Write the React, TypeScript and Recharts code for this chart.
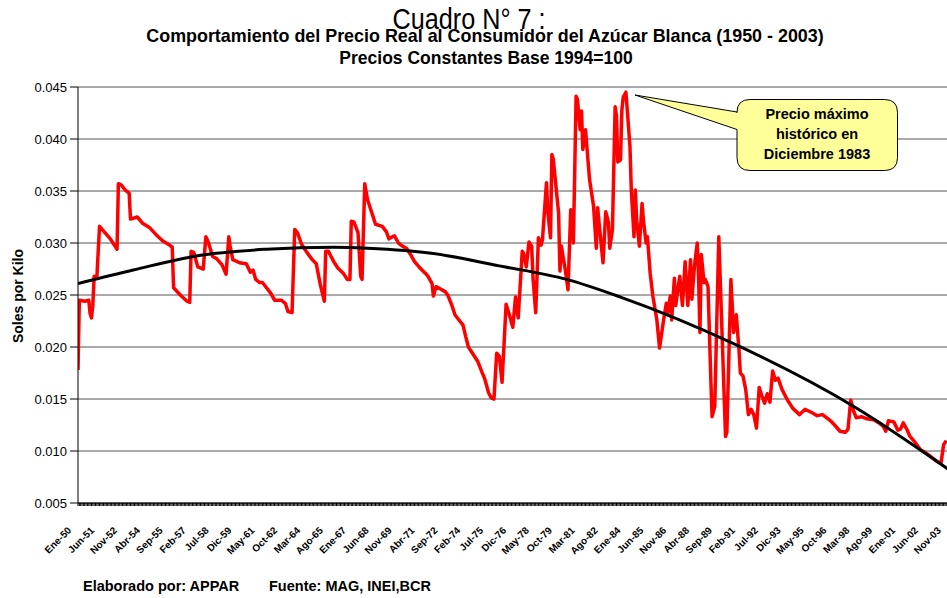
import React from 'react';
import { LineChart, Line, XAxis, YAxis, CartesianGrid } from 'recharts';

const mesIdx = [
  0, 1, 5, 8, 9, 10, 11, 12, 14, 16, 20, 24, 29, 30, 32, 35, 38, 39, 44, 48, 53, 58, 63, 68, 70, 71, 76, 81, 83, 84,
  86, 89, 93, 95, 97, 100, 103, 107, 110, 112, 113, 115, 120, 125, 128, 130, 132, 135, 137, 140, 143, 146, 151, 154,
  156, 159, 161, 163, 166, 170, 174, 177, 180, 183, 184, 186, 190, 193, 197, 200, 202, 203, 205, 208, 210, 211, 213,
  215, 218, 221, 226, 229, 231, 235, 238, 241, 244, 247, 250, 254, 258, 260, 263, 264, 266, 269, 273, 275, 278, 280,
  283, 286, 288, 290, 293, 297, 300, 302, 305, 307, 309, 311, 313, 315, 318, 320, 323, 325, 327, 330, 331, 333, 335,
  337, 338, 340, 342, 344, 345, 348, 349, 351, 352, 353, 357, 358, 359, 362, 364, 366, 367, 368, 370, 371, 373, 374,
  375, 377, 380, 383, 385, 386, 387, 390, 392, 394, 395, 397, 399, 400, 401, 403, 404, 405, 407, 408, 410, 411, 413,
  414, 415, 417, 419, 420, 422, 423, 425, 427, 430, 432, 434, 435, 437, 438, 440, 441, 443, 444, 447, 449, 451, 453,
  455, 456, 458, 460, 461, 462, 463, 465, 466, 468, 470, 471, 473, 476, 481, 482, 485, 487, 489, 491, 492, 494, 496,
  498, 500, 502, 504, 506, 508, 510, 512, 514, 516, 518, 520, 523, 527, 531, 536, 540, 545, 549, 553, 556, 559, 562,
  566, 570, 572, 574, 576, 578, 582, 586, 591, 595, 598, 600, 602, 606, 609, 611, 613, 616, 618, 622, 626, 629, 633,
  638, 641, 643, 645,
];

const precio = [
  0.0178, 0.0245, 0.0244, 0.0245, 0.0232, 0.0228, 0.024, 0.0268, 0.0267, 0.0316, 0.031, 0.0304, 0.0294, 0.0357, 0.0356,
  0.0351, 0.0348, 0.0323, 0.0325, 0.0319, 0.0315, 0.0308, 0.0302, 0.0298, 0.0296, 0.0257, 0.025, 0.0244, 0.0243, 0.0292,
  0.0291, 0.0277, 0.0275, 0.0306, 0.03, 0.0287, 0.0285, 0.0279, 0.027, 0.0306, 0.0297, 0.0284, 0.0281, 0.028, 0.0272,
  0.0274, 0.0265, 0.0262, 0.0262, 0.0257, 0.0252, 0.0245, 0.0245, 0.0242, 0.0234, 0.0233, 0.0313, 0.031, 0.0299, 0.0291,
  0.0284, 0.028, 0.026, 0.0244, 0.0292, 0.0292, 0.0282, 0.0276, 0.0271, 0.0265, 0.0265, 0.0321, 0.032, 0.031, 0.0268,
  0.0265, 0.0357, 0.0342, 0.033, 0.0318, 0.0316, 0.0311, 0.0304, 0.0307, 0.03, 0.0297, 0.0295, 0.0289, 0.0282, 0.0276,
  0.0271, 0.0268, 0.0261, 0.0249, 0.0258, 0.0256, 0.0253, 0.0249, 0.0239, 0.0231, 0.0226, 0.0221, 0.021, 0.02, 0.0194,
  0.0186, 0.0176, 0.017, 0.0156, 0.0151, 0.015, 0.0194, 0.0191, 0.0166, 0.0241, 0.0233, 0.0219, 0.0248, 0.0228, 0.0292,
  0.029, 0.0277, 0.0301, 0.0297, 0.0266, 0.0233, 0.0305, 0.0298, 0.0303, 0.0358, 0.033, 0.0305, 0.0385, 0.0381, 0.0329,
  0.0273, 0.0297, 0.0274, 0.0255, 0.0332, 0.0331, 0.03, 0.0441, 0.0438, 0.0409, 0.0427, 0.039, 0.0409, 0.0361, 0.0335,
  0.0295, 0.0334, 0.032, 0.0281, 0.033, 0.032, 0.0295, 0.0313, 0.0431, 0.0422, 0.0378, 0.038, 0.0428, 0.044, 0.0445,
  0.0428, 0.0393, 0.0351, 0.0306, 0.0351, 0.0322, 0.0297, 0.0338, 0.0322, 0.03, 0.0306, 0.0271, 0.0249, 0.0226, 0.0199,
  0.0217, 0.0226, 0.0242, 0.0233, 0.0249, 0.0226, 0.0266, 0.024, 0.0268, 0.024, 0.0282, 0.024, 0.0284, 0.0246, 0.0279,
  0.03, 0.0265, 0.0214, 0.0289, 0.0262, 0.0265, 0.0258, 0.0172, 0.0133, 0.0143, 0.0306, 0.0114, 0.0118, 0.0265, 0.0214,
  0.0231, 0.0197, 0.0175, 0.0172, 0.0159, 0.0135, 0.014, 0.0135, 0.0122, 0.0161, 0.0153, 0.0146, 0.0155, 0.0147, 0.0177,
  0.0168, 0.017, 0.0159, 0.0149, 0.0141, 0.0135, 0.014, 0.0137, 0.0134, 0.0135, 0.0132, 0.0129, 0.0125, 0.0119, 0.0118,
  0.0121, 0.0149, 0.0139, 0.0132, 0.0133, 0.0131, 0.013, 0.0127, 0.0124, 0.0119, 0.0129, 0.0128, 0.012, 0.0121, 0.0127,
  0.012, 0.0114, 0.0108, 0.0101, 0.0099, 0.0095, 0.009, 0.0088, 0.0106, 0.011,
];

// polynomial trend line, read at a few points
const mesTend = [0, 41, 90, 140, 190, 215, 264, 313, 363, 403, 489, 576, 647];
const tendencia = [0.0261, 0.0274, 0.0288, 0.0294, 0.0296, 0.0295, 0.029, 0.0278, 0.0265, 0.0248, 0.0202, 0.0143, 0.0082];

const etiquetas = [
  'Ene-50', 'Jun-51', 'Nov-52', 'Abr-54', 'Sep-55', 'Feb-57', 'Jul-58', 'Dic-59', 'May-61', 'Oct-62', 'Mar-64',
  'Ago-65', 'Ene-67', 'Jun-68', 'Nov-69', 'Abr-71', 'Sep-72', 'Feb-74', 'Jul-75', 'Dic-76', 'May-78', 'Oct-79',
  'Mar-81', 'Ago-82', 'Ene-84', 'Jun-85', 'Nov-86', 'Abr-88', 'Sep-89', 'Feb-91', 'Jul-92', 'Dic-93', 'May-95',
  'Oct-96', 'Mar-98', 'Ago-99', 'Ene-01', 'Jun-02', 'Nov-03',
];
const PASO = 17;
const TOTAL_MESES = 648;

const yTicks = [0.005, 0.01, 0.015, 0.02, 0.025, 0.03, 0.035, 0.04, 0.045];

const serie = mesIdx.map((m, i) => ({ m, precio: precio[i] }));
const serieTend = mesTend.map((m, i) => ({ m, tend: tendencia[i] }));
const allTicks = Array.from({ length: TOTAL_MESES }, (_, i) => i);

const FONT = '"Liberation Sans", Arial, sans-serif';

const MesTick = (props: any) => {
  const { x, y, payload } = props;
  const m = payload.value;
  if (m % PASO !== 0) return null;
  const label = etiquetas[m / PASO];
  if (!label) return null;
  const ax = x - 6;
  const ay = y + 25;
  return (
    <text
      x={ax}
      y={ay}
      transform={`rotate(-45 ${ax} ${ay})`}
      textAnchor="end"
      fontSize={10}
      fontWeight="bold"
      fontFamily={FONT}
      fill="#000"
    >
      {label}
    </text>
  );
};

const App = () => {
  return (
    <div style={{ position: 'absolute', left: 0, top: 0, width: 947, height: 598, overflow: 'hidden', fontFamily: FONT, background: '#fff' }}>
      <LineChart
        width={968}
        height={598}
        margin={{ top: 87, right: 19, bottom: 55, left: 16 }}
      >
        <CartesianGrid vertical={false} stroke="#555" strokeWidth={1} />
        <XAxis
          type="number"
          dataKey="m"
          domain={[0, TOTAL_MESES - 1]}
          ticks={allTicks}
          interval={0}
          tick={<MesTick />}
          tickSize={3}
          tickMargin={0}
          height={40}
          stroke="#000"
          allowDataOverflow
        />
        <YAxis
          type="number"
          domain={[0.005, 0.045]}
          ticks={yTicks}
          tickFormatter={(v: number) => v.toFixed(3)}
          tick={{ fontSize: 13, fill: '#000', fontFamily: FONT }}
          tickSize={8}
          tickMargin={3}
          width={62}
          stroke="#000"
          allowDataOverflow
        />
        <Line
          data={serie}
          dataKey="precio"
          type="linear"
          stroke="#ff0000"
          strokeWidth={3.5}
          strokeLinejoin="round"
          dot={false}
          isAnimationActive={false}
        />
        <Line
          data={serieTend}
          dataKey="tend"
          type="monotone"
          stroke="#000"
          strokeWidth={3}
          dot={false}
          isAnimationActive={false}
        />
      </LineChart>

      <svg
        width={947}
        height={598}
        style={{ position: 'absolute', left: 0, top: 0, pointerEvents: 'none' }}
      >
        <text x={469} y={29} textAnchor="middle" fontSize={29} fontFamily='"Liberation Sans Narrow", "Liberation Sans", Arial' textLength={153} lengthAdjust="spacingAndGlyphs">
          Cuadro N° 7 :
        </text>
        <text x={485} y={42} textAnchor="middle" fontSize={17.9} fontWeight="bold" fontFamily={FONT}>
          Comportamiento del Precio Real al Consumidor del Azúcar Blanca (1950 - 2003)
        </text>
        <text x={486} y={64} textAnchor="middle" fontSize={17.5} fontWeight="bold" fontFamily={FONT}>
          Precios Constantes Base 1994=100
        </text>

        <text
          x={18}
          y={296}
          transform="rotate(-90 18 296)"
          textAnchor="middle"
          dominantBaseline="central"
          fontSize={14}
          fontWeight="bold"
          fontFamily={FONT}
        >
          Soles por Kilo
        </text>

        <path
          d="M750 99.5 H884.5 Q897.5 99.5 897.5 112.5 V157.5 Q897.5 170.5 884.5 170.5 H750 Q737 170.5 737 157.5 V129.5 L635 95 L737 112 V112.5 Q737 99.5 750 99.5 Z"
          fill="#ffff99"
          stroke="#000"
          strokeWidth={1}
        />
        <text x={817} y={119} textAnchor="middle" fontSize={14.5} fontWeight="bold" fontFamily={FONT}>
          Precio máximo
        </text>
        <text x={817} y={139} textAnchor="middle" fontSize={14.5} fontWeight="bold" fontFamily={FONT}>
          histórico en
        </text>
        <text x={817} y={159} textAnchor="middle" fontSize={14.5} fontWeight="bold" fontFamily={FONT}>
          Diciembre 1983
        </text>

        <text x={83} y={591} fontSize={14.5} fontWeight="bold" fontFamily={FONT}>
          Elaborado por: APPAR
        </text>
        <text x={269} y={591} fontSize={14.5} fontWeight="bold" fontFamily={FONT}>
          Fuente: MAG, INEI,BCR
        </text>
      </svg>
    </div>
  );
};

export default App;
